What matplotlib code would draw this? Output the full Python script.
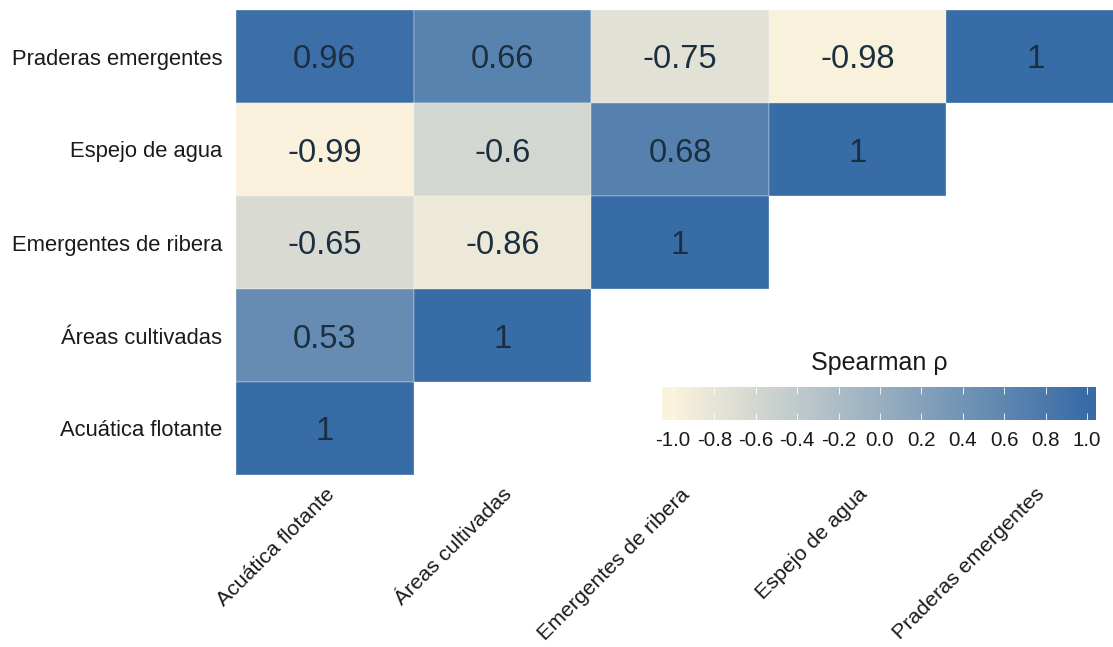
import numpy as np
import matplotlib
matplotlib.use("Agg")
import matplotlib.pyplot as plt
from matplotlib.colors import LinearSegmentedColormap, Normalize
from matplotlib.patches import Rectangle

plt.rcParams['font.family'] = ['Liberation Sans', 'DejaVu Sans']

# Land-cover classes and Spearman correlations (lower triangle)
row_labels = ["Praderas emergentes", "Espejo de agua", "Emergentes de ribera",
              "Áreas cultivadas", "Acuática flotante"]
col_labels = ["Acuática flotante", "Áreas cultivadas", "Emergentes de ribera",
              "Espejo de agua", "Praderas emergentes"]
rho_praderas = [0.96, 0.66, -0.75, -0.98, 1]
rho_espejo = [-0.99, -0.6, 0.68, 1]
rho_ribera = [-0.65, -0.86, 1]
rho_cultivadas = [0.53, 1]
rho_flotante = [1]
cbar_ticks = [-1.0, -0.8, -0.6, -0.4, -0.2, 0.0, 0.2, 0.4, 0.6, 0.8, 1.0]

rows = [rho_praderas, rho_espejo, rho_ribera, rho_cultivadas, rho_flotante]
n = len(col_labels)

cmap = LinearSegmentedColormap.from_list("cream_blue", ["#FAF2DC", "#386CA6"])
norm = Normalize(vmin=-1, vmax=1)

W, H = 1113, 647
fig = plt.figure(figsize=(W / 100, H / 100), dpi=100)
ax = fig.add_axes([236 / W, 1 - 475 / H, 888 / W, 465 / H])
ax.set_xlim(0, n)
ax.set_ylim(n, 0)
for s in ax.spines.values():
    s.set_visible(False)

# One tile per available coefficient, labelled with its value
for i, r in enumerate(rows):
    for j, v in enumerate(r):
        ax.add_patch(Rectangle((j, i), 1, 1, facecolor=cmap(norm(v)),
                               edgecolor='#f4f6f8', linewidth=0.25))
        ax.text(j + 0.5, i + 0.5, f"{v:g}", ha='center', va='center_baseline',
                fontsize=23.5, color='#1b2f40')

ax.set_xticks(np.arange(n) + 0.5)
ax.set_yticks(np.arange(n) + 0.5)
ax.set_xticklabels(col_labels, rotation=45, ha='right', va='top',
                   rotation_mode='anchor', fontsize=15.4, color='#1a1a1a')
ax.set_yticklabels(row_labels, fontsize=15.8, color='#1a1a1a')
ax.tick_params(axis='both', length=0)
ax.tick_params(axis='y', pad=10)
ax.tick_params(axis='x', pad=7)

# Horizontal colour bar
cax = fig.add_axes([662 / W, 1 - 420 / H, 434 / W, 33 / H])
lo, hi = -1.053, 1.043
grad = np.linspace(lo, hi, 400)[None, :]
cax.imshow(grad, aspect='auto', cmap=cmap, norm=norm, extent=[lo, hi, 0, 1])
cax.set_xlim(lo, hi)
cax.set_ylim(0, 1)
cax.set_yticks([])
cax.set_xticks(cbar_ticks)
cax.set_xticklabels([f"{v:.1f}" for v in cbar_ticks], fontsize=14.8, color='#1a1a1a')
cax.tick_params(axis='x', direction='in', length=5, width=0.6, color='white',
                top=True, pad=8)
for s in cax.spines.values():
    s.set_visible(False)
cax.set_title("Spearman ρ", fontsize=18, color='#1a1a1a', pad=12)

fig.savefig("out.png", dpi=100)
